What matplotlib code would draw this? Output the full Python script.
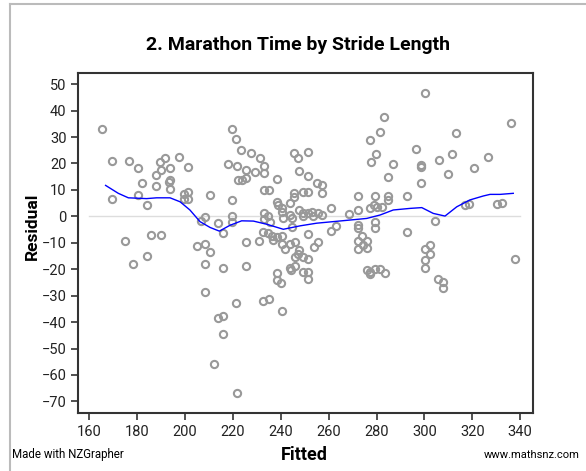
import matplotlib.pyplot as plt
from matplotlib.lines import Line2D

plt.rcParams['font.family'] = ['Roboto', 'DejaVu Sans']

# fitted values and residuals
fitted = [165.5, 169.4, 169.4, 174.8, 176.7, 178.5, 180.4, 180.4, 182.2, 184.2,
          184.3, 186.0, 187.9, 188.1, 189.5, 189.9, 190.0, 191.7, 193.8, 193.8,
          193.5, 193.8, 197.4, 201.3, 199.5, 201.3, 201.3, 199.5, 204.9, 206.6,
          208.4, 208.4, 208.3, 208.3, 210.3, 210.4, 212.2, 213.9, 213.9, 215.9,
          215.8, 216.1, 215.8, 217.8, 219.8, 219.7, 219.7, 219.7, 221.4, 221.6,
          221.5, 221.6, 222.3, 223.5, 223.7, 225.4, 225.4, 225.5, 225.5, 227.4,
          229.2, 231.2, 231.1, 232.7, 233.0, 233.0, 233.0, 235.0, 233.0, 234.8,
          233.0, 235.5, 232.8, 234.8, 235.0, 236.2, 236.6, 238.3, 238.6, 238.6,
          239.0, 240.4, 240.4, 241.1, 240.4, 240.4, 242.0, 238.6, 238.6, 240.0,
          240.5, 243.9, 243.9, 244.6, 244.6, 243.9, 243.9, 244.2, 245.6, 245.5,
          245.6, 247.4, 247.6, 246.0, 247.5, 247.3, 245.8, 249.4, 251.5, 246.0,
          249.5, 251.5, 251.5, 247.6, 249.5, 251.5, 249.5, 251.5, 249.4, 251.5,
          251.5, 251.5, 253.2, 253.4, 253.8, 255.7, 255.3, 257.4, 257.3, 255.7,
          257.3, 261.0, 261.1, 262.9, 268.6, 272.4, 272.4, 272.4, 272.4, 273.8,
          272.4, 275.9, 274.3, 272.4, 276.0, 277.3, 277.5, 277.3, 279.0, 279.4,
          279.6, 280.1, 282.2, 279.4, 279.4, 281.4, 283.3, 276.0, 277.3, 279.4,
          281.5, 283.6, 277.3, 285.0, 285.0, 285.0, 287.0, 292.7, 292.8, 296.5,
          298.5, 298.5, 298.5, 300.3, 300.3, 302.3, 302.3, 300.3, 300.3, 304.3,
          305.8, 307.9, 307.9, 306.0, 309.8, 311.7, 313.2, 317.0, 318.6, 320.8,
          326.4, 330.2, 332.3, 336.0, 337.7]
residual = [33.1, 20.8, 6.7, -9.3, 20.8, -17.9, 18.3, 7.9, 12.6, -14.9,
            4.4, -7.1, 11.3, 15.5, 20.6, -7.1, 17.5, 21.9, 18.1, 13.7,
            12.8, 10.2, 22.4, 18.5, 8.5, 9.3, 6.5, 6.5, -11.3, -1.7,
            -0.1, -10.4, -17.9, -28.6, 8.2, -13.6, -55.7, -2.4, -38.5, -6.3,
            -19.7, -37.7, -44.5, 19.9, 33.2, 6.2, 0.2, -2.3, 29.2, 19.0,
            -32.8, -66.8, 13.7, 25.0, 13.7, 17.4, 14.5, -9.7, -18.8, 23.9,
            16.9, 22.0, -9.3, -32.0, 19.2, 16.2, 10.0, 10.0, 1.1, 0.1,
            -0.9, -2.2, -5.9, -6.4, -31.2, -7.5, -8.8, -7.7, 14.3, 5.5,
            4.3, 3.0, 1.7, -0.7, -7.5, -10.6, -12.3, -21.6, -24.1, -25.3,
            -35.8, 4.9, 0.5, -0.8, -3.9, -10.6, -19.7, -20.3, 23.9, 8.9,
            7.2, 21.9, 17.0, -9.6, -12.7, -14.2, -15.3, -15.3, -16.2, -18.6,
            -21.1, -20.9, -23.8, 2.4, 9.2, 9.2, 1.3, 1.1, 0.1, 24.2,
            15.1, -6.6, 1.7, 0.3, -11.6, -9.7, 12.6, 11.8, 8.7, 1.1,
            0.5, 3.0, -5.6, -3.5, 1.0, 7.6, 2.3, -3.3, -4.5, -7.4,
            -9.5, -9.5, -10.9, -12.2, -12.0, 28.8, 20.6, 3.3, 4.2, 7.7,
            23.4, 3.4, 3.4, -2.0, -4.5, 31.8, 37.6, -20.3, -20.9, -19.9,
            -19.9, -21.6, -22.0, 14.7, 7.7, 6.3, 19.9, 7.8, -6.0, 25.4,
            19.4, 18.5, 12.5, 46.5, -12.3, -10.9, -14.4, -16.5, -19.7, -1.7,
            -23.7, -25.0, -27.2, 21.2, 16.0, 23.4, 31.6, 4.3, 4.7, 18.2,
            22.4, 4.7, 4.9, 35.4, -16.1]

# blue smoother line
smooth_x = [166.9, 172.2, 176.4, 184.0, 188.2, 193.8, 198.0, 202.1, 206.3, 210.5,
            214.4, 218.8, 223.7, 228.6, 234.2, 241.1, 248.1, 255.0, 262.0, 269.0,
            275.9, 281.5, 287.0, 294.0, 298.9, 303.7, 308.6, 313.5, 319.0, 324.6,
            327.4, 331.6, 337.1]
smooth_y = [11.7, 8.7, 7.0, 6.7, 7.0, 7.0, 5.5, 2.4, -2.0, -4.2,
            -5.6, -3.4, -1.7, -1.8, -3.0, -4.9, -3.6, -2.6, -2.0, -1.4,
            -0.8, 0.5, 2.4, 3.0, 3.3, 1.1, 0.1, 3.6, 6.2, 7.7,
            8.3, 8.3, 8.7]

fig = plt.figure(figsize=(5.86, 4.71), dpi=100)
ax = fig.add_axes([0.1336, 0.1225, 0.909 - 0.1336, 0.8444 - 0.1225])

ax.plot([160, 340], [0, 0], color='#dddddd', lw=1, zorder=1)
ax.plot(fitted, residual, 'o', mfc='none', mec='#999999', mew=1.5, ms=5.2, zorder=2)
ax.plot(smooth_x, smooth_y, color='#0000ff', lw=1, zorder=3)

ax.set_xlim(155.5, 345.2)
ax.set_ylim(-74.5, 54.1)
ax.set_xticks(range(160, 341, 20))
ax.set_yticks(range(-70, 51, 10))
ax.tick_params(labelsize=10.5, length=5, width=1.2, color='#333333', labelcolor='#222222')
for s in ax.spines.values():
    s.set_linewidth(1.5)
    s.set_color('#333333')

fig.text(0.508, 0.905, '2. Marathon Time by Stride Length', ha='center', va='center',
         fontsize=14, fontweight='bold')
fig.text(0.055, 0.52, 'Residual', rotation=90, ha='center', va='center',
         fontsize=12.5, fontweight='bold')
fig.text(0.52, 0.034, 'Fitted', ha='center', va='center', fontsize=13, fontweight='bold')
fig.text(0.02, 0.034, 'Made with NZGrapher', ha='left', va='center', fontsize=8.3)
fig.text(0.99, 0.034, 'www.mathsnz.com', ha='right', va='center', fontsize=8)

# light grey page frame
fig.add_artist(Line2D([10 / 586, 1], [1 - 4 / 471, 1 - 4 / 471], color='#bbbbbb', lw=1.5))
fig.add_artist(Line2D([10 / 586, 10 / 586], [0, 1 - 4 / 471], color='#bbbbbb', lw=1.5))

fig.savefig('out.png', dpi=100)
